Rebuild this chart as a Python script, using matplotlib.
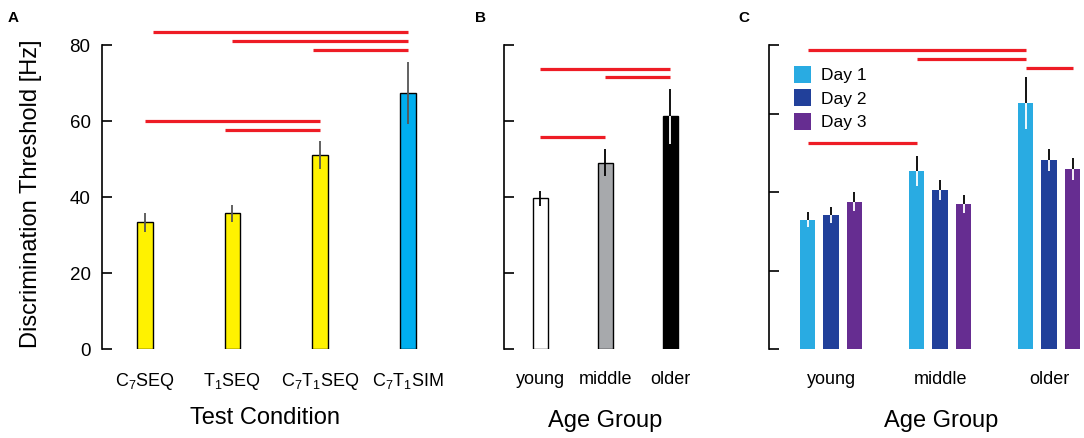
import numpy as np
import matplotlib.pyplot as plt

plt.rcParams['font.family'] = ['Liberation Sans', 'DejaVu Sans']
plt.rcParams['mathtext.fontset'] = 'custom'
plt.rcParams['mathtext.rm'] = 'Liberation Sans'

# Panel A data
cond_labels = [r'C$_7$SEQ', r'T$_1$SEQ', r'C$_7$T$_1$SEQ', r'C$_7$T$_1$SIM']
cond_means = [33.3, 35.7, 51.0, 67.4]
cond_errs = [2.4, 2.3, 3.7, 8.1]
cond_colors = ['#fff200', '#fff200', '#fff200', '#00aeef']
# significance lines: (y, x start, x end) in bar units
sig_a = [(83.4, 0.09, 3.0), (81.0, 1.0, 3.0), (78.7, 1.92, 3.0),
         (60.1, 0.0, 2.0), (57.6, 0.92, 2.0)]

# Panel B data
age_labels = ['young', 'middle', 'older']
age_means = [39.7, 49.0, 61.2]
age_errs = [2.0, 3.6, 7.3]
age_colors = ['white', '#a7a9ac', 'black']
sig_b = [(73.7, 0.0, 2.0), (71.5, 1.0, 2.0), (55.9, 0.0, 1.0)]

# Panel C data
days = ['Day 1', 'Day 2', 'Day 3']
day_colors = ['#29abe2', '#21409a', '#662d91']
day_means = [[33.0, 45.4, 62.8],
             [34.1, 40.6, 48.1],
             [37.5, 36.9, 45.9]]
day_errs = [[1.9, 3.8, 6.6],
            [2.0, 2.6, 2.8],
            [2.4, 2.3, 2.9]]
sig_c = [(76.2, -0.215, 1.785), (74.0, 0.785, 1.785),
         (71.7, 1.785, 2.215), (52.4, -0.215, 0.785)]

RED = '#ee1c25'
W, H = 1084, 438
fig = plt.figure(figsize=(W / 100, H / 100), dpi=100)


def px_axes(l, r, b=349, t=45):
    return fig.add_axes([l / W, (H - b) / H, (r - l) / W, (b - t) / H])


def style(ax, ymax, ticks):
    for s in ['top', 'right', 'bottom']:
        ax.spines[s].set_visible(False)
    ax.spines['left'].set_linewidth(1.2)
    ax.spines['left'].set_bounds(0, ymax)
    ax.set_ylim(0, ymax)
    ax.set_yticks(ticks)
    ax.tick_params(axis='y', direction='in', length=7, width=1.2, labelsize=13.5, pad=8)
    ax.tick_params(axis='x', length=0, pad=16, labelsize=13)


# ---- A ----
axA = px_axes(101.7, 451.7)
xa = np.arange(len(cond_means))
axA.bar(xa, cond_means, width=0.18, color=cond_colors, edgecolor='black', linewidth=1)
axA.errorbar(xa, cond_means, yerr=cond_errs, fmt='none', ecolor='#555555', elinewidth=1.3)
for y, x0, x1 in sig_a:
    axA.hlines(y, x0, x1, color=RED, lw=2.3, clip_on=False)
axA.set_xlim(-0.49, 3.5)
style(axA, 80, [0, 20, 40, 60, 80])
axA.set_xticks(xa)
axA.set_xticklabels(cond_labels)
axA.set_xlabel('Test Condition', fontsize=17)
axA.xaxis.set_label_coords(0.467, -0.19)
axA.set_ylabel('Discrimination Threshold [Hz]', fontsize=17)
axA.yaxis.set_label_coords(-0.17, 0.51)

# ---- B ----
axB = px_axes(504.3, 702.8)
xb = np.arange(len(age_means))
axB.bar(xb, age_means, width=0.24, color=age_colors, edgecolor='black', linewidth=1)
axB.errorbar(xb[:2], age_means[:2], yerr=age_errs[:2], fmt='none', ecolor='black', elinewidth=1.3)
axB.errorbar(xb[2:], age_means[2:], yerr=[[0], age_errs[2:]], fmt='none', ecolor='black', elinewidth=1.3)
axB.errorbar(xb[2:], age_means[2:], yerr=[age_errs[2:], [0]], fmt='none', ecolor='white', elinewidth=1.3)
for y, x0, x1 in sig_b:
    axB.hlines(y, x0, x1, color=RED, lw=2.3, clip_on=False)
axB.set_xlim(-0.554, 2.5)
style(axB, 80, [0, 20, 40, 60, 80])
axB.set_yticklabels([])
axB.set_xticks(xb)
axB.set_xticklabels(age_labels)
axB.set_xlabel('Age Group', fontsize=17)
axB.xaxis.set_label_coords(0.507, -0.2)

# ---- C ----
axC = px_axes(769.3, 1084)
xc = np.arange(len(age_labels))
offsets = [-0.215, 0.0, 0.215]
for i in range(3):
    xs = xc + offsets[i]
    axC.bar(xs, day_means[i], width=0.14, color=day_colors[i], label=days[i])
    axC.errorbar(xs, day_means[i], yerr=[np.zeros(3), day_errs[i]], fmt='none', ecolor='black', elinewidth=1.3)
    axC.errorbar(xs, day_means[i], yerr=[day_errs[i], np.zeros(3)], fmt='none', ecolor='white', elinewidth=1.3)
for y, x0, x1 in sig_c:
    axC.hlines(y, x0, x1, color=RED, lw=2.3, clip_on=False)
axC.set_xlim(-0.566, 2.32)
style(axC, 77.5, [0, 20, 40, 60, 77.5])
axC.set_yticklabels([])
axC.set_xticks(xc)
axC.set_xticklabels(age_labels)
axC.set_xlabel('Age Group', fontsize=17)
axC.xaxis.set_label_coords(0.545, -0.2)
axC.legend(loc='upper left', bbox_to_anchor=(0.057, 0.955), frameon=False, fontsize=12.5,
           handlelength=0.95, handleheight=1.15, handletextpad=0.6, labelspacing=0.35,
           borderaxespad=0)

fig.text(8 / W, 1 - 22 / H, 'A', fontsize=11, fontweight='bold')
fig.text(475 / W, 1 - 22 / H, 'B', fontsize=11, fontweight='bold')
fig.text(738 / W, 1 - 22 / H, 'C', fontsize=11, fontweight='bold')

fig.savefig('out.png', dpi=100)
